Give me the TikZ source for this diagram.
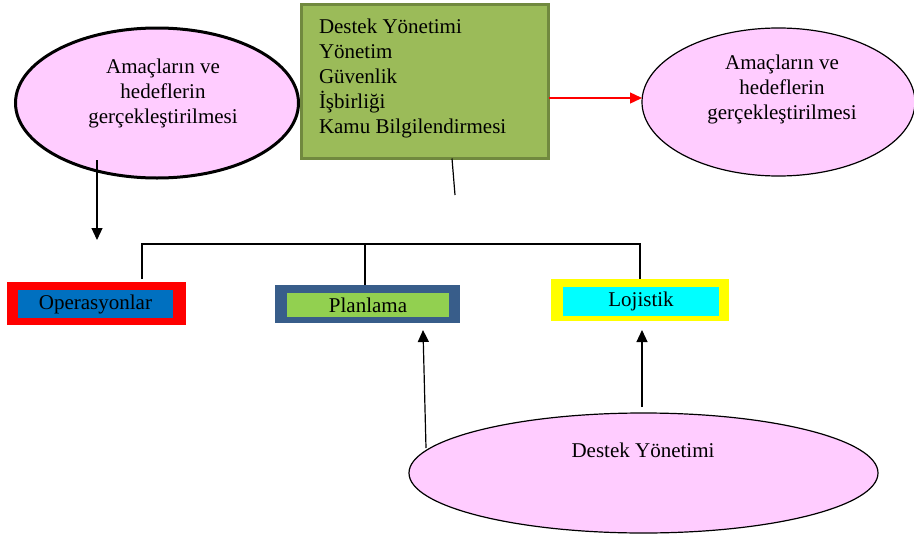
\documentclass[tikz,border=0pt]{standalone}
\usepackage{fontspec}
\setmainfont{Liberation Serif}
\usetikzlibrary{shapes.geometric,arrows.meta}
\definecolor{ovalpink}{HTML}{FFCCFF}
\definecolor{boxgreen}{HTML}{9BBB59}
\definecolor{boxgreenedge}{HTML}{71893F}
\definecolor{opsblue}{HTML}{0070C0}
\definecolor{planedge}{HTML}{385D8A}
\definecolor{plangreen}{HTML}{92D050}
\definecolor{lojyellow}{HTML}{FFFF00}
\definecolor{lojcyan}{HTML}{00FFFF}
\definecolor{alertred}{HTML}{FF0000}
\begin{document}
\begin{tikzpicture}[x=1pt,y=-1pt,
  every node/.style={inner sep=0pt, outer sep=0pt},
  txt/.style={font=\fontsize{21}{25}\selectfont, align=center},
  oval/.style={ellipse, fill=ovalpink, draw=black, line width=1.2pt},
  frame/.style={rectangle, minimum width=#1},
  conn/.style={line width=1.2pt, -{Triangle[width=11pt,length=12pt]}},
  plain/.style={line width=1.2pt}]
\useasboundingbox (0,0) rectangle (914,536);

% goal ovals
\node[oval, line width=3pt, minimum width=283, minimum height=150] (goalL) at (157,103) {};
\node[txt] (goalLtext) at (163,93) {Amaçların ve\\hedeflerin\\gerçekleştirilmesi};
\node[oval, minimum width=273, minimum height=148] (goalR) at (778.5,102) {};
\node[txt] (goalRtext) at (782,89.5) {Amaçların ve\\hedeflerin\\gerçekleştirilmesi};

% support functions box
\node[rectangle, fill=boxgreen, draw=boxgreenedge, line width=3pt,
      minimum width=247, minimum height=154] (gbox) at (425,81.5) {};
\node[txt, align=left, anchor=west] (gboxtext) at (319,78)
  {Destek Yönetimi\\Yönetim\\Güvenlik\\İşbirliği\\Kamu Bilgilendirmesi};

% unit boxes
\node[frame=179, minimum height=43, fill=alertred] (opsOuter) at (96.5,303.5) {};
\node[frame=155, minimum height=28, fill=opsblue, txt] (ops) at (95.5,304) {Operasyonlar};
\node[frame=185, minimum height=38, fill=planedge] (planOuter) at (367.5,304) {};
\node[frame=162, minimum height=24, fill=plangreen, txt] (plan) at (368,305) {Planlama};
\node[frame=178, minimum height=42, fill=lojyellow] (lojOuter) at (640,300) {};
\node[frame=156, minimum height=29, fill=lojcyan, txt] (loj) at (641,301.5) {Lojistik};

% support management oval
\node[oval, minimum width=469, minimum height=120] (destek) at (643.5,473) {};
\node[txt] (destektext) at (643,450) {Destek Yönetimi};

% connectors
\coordinate (goalLfoot) at (97,160);
\coordinate (goalLtip) at (97,240);
\draw[conn] (goalLfoot) -- (goalLtip);

\draw[conn, alertred, line width=1.4pt] (gbox.east |- 0,98) -- (goalR.west |- 0,98);

\coordinate (gtail) at (455,195);
\draw[plain] ([xshift=27pt]gbox.south) -- (gtail);

\coordinate (brL) at (142,279);
\coordinate (brM) at (365,244);
\draw[plain] (brL) |- (brM) -| (lojOuter.north);
\draw[plain] (brM) -- (brM |- planOuter.north);

\coordinate (destekL) at (426,448);
\coordinate (planTip) at (423,330);
\draw[conn] (destekL) -- (planTip);
\coordinate (destekR) at (642,407);
\coordinate (lojTip) at (642,330);
\draw[conn] (destekR) -- (lojTip);
\end{tikzpicture}
\end{document}
